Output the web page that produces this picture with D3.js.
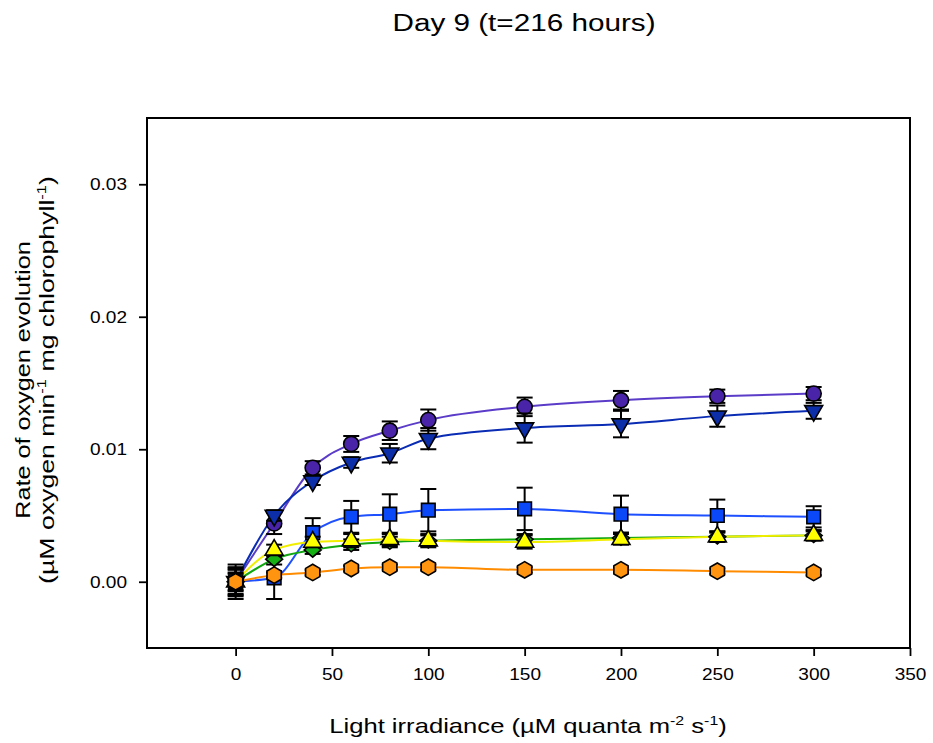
<!DOCTYPE html>
<html>
<head>
<meta charset="utf-8">
<script src="https://cdn.jsdelivr.net/npm/d3@7"></script>
<style>
  body { margin: 0; background: #fff; }
  svg { font-family: "Liberation Sans", Arial, sans-serif; }
</style>
</head>
<body>
<svg id="chart" width="933" height="743"></svg>
<script>
// light levels (µM quanta m-2 s-1)
const irradiance = [0, 20, 40, 60, 80, 100, 150, 200, 250, 300]

// rates + standard errors per culture
const purpleRate = [0.0000, 0.0044, 0.0086, 0.0104, 0.0114, 0.0122, 0.0132, 0.0137, 0.0140, 0.0142]
const purpleErr  = [0.0010, 0.0008, 0.0005, 0.0006, 0.0007, 0.0008, 0.0007, 0.0007, 0.0005, 0.0005]
const navyRate   = [0.0000, 0.0050, 0.0076, 0.0090, 0.0097, 0.0108, 0.0116, 0.0119, 0.0125, 0.0129]
const navyErr    = [0.0009, 0.0004, 0.0003, 0.0004, 0.0007, 0.0008, 0.0011, 0.0010, 0.0008, 0.0006]
const blueRate   = [0.0000, 0.0003, 0.0037, 0.0049, 0.0051, 0.0054, 0.0055, 0.0051, 0.0050, 0.0049]
const blueErr    = [0.0013, 0.0016, 0.0011, 0.0012, 0.0015, 0.0016, 0.0016, 0.0014, 0.0012, 0.0008]
const greenRate  = [0.0000, 0.0017, 0.0024, 0.0028, 0.0030, 0.0031, 0.0032, 0.0033, 0.0034, 0.0035]
const greenErr   = [0.0006, 0.0004, 0.0003, 0.0004, 0.0004, 0.0004, 0.0004, 0.0004, 0.0003, 0.0003]
const yellowRate = [0.0000, 0.0024, 0.0030, 0.0031, 0.0032, 0.0031, 0.0030, 0.0032, 0.0034, 0.0035]
const yellowErr  = [0.0007, 0.0004, 0.0004, 0.0005, 0.0005, 0.0005, 0.0005, 0.0004, 0.0004, 0.0004]
const orangeRate = [0.0000, 0.0005, 0.0007, 0.0010, 0.0011, 0.0011, 0.0009, 0.0009, 0.0008, 0.0007]
const orangeErr  = [0.0011, 0.0002, 0.0002, 0.0002, 0.0002, 0.0002, 0.0002, 0.0002, 0.0002, 0.0002]

const xTicks = [0, 50, 100, 150, 200, 250, 300, 350]
const yTicks = [0.00, 0.01, 0.02, 0.03]

// custom marker shapes
const hexagon = {
  draw(ctx, size) {
    const r = Math.sqrt(size / 2.598)
    for (let i = 0; i < 6; i++) {
      const a = Math.PI / 3 * i - Math.PI / 2
      i ? ctx.lineTo(r * Math.cos(a), r * Math.sin(a)) : ctx.moveTo(r * Math.cos(a), r * Math.sin(a))
    }
    ctx.closePath()
  }
}
const flatDiamond = {
  draw(ctx, size) {
    const w = Math.sqrt(size) * 0.62, h = w * 0.85
    ctx.moveTo(0, -h); ctx.lineTo(w, 0); ctx.lineTo(0, h); ctx.lineTo(-w, 0); ctx.closePath()
  }
}

const series = [
  { rate: purpleRate, err: purpleErr, line: '#5a3cc8', fill: '#4a24a8', shape: d3.symbolCircle, size: 180, rot: 0 },
  { rate: navyRate, err: navyErr, line: '#0a2cb4', fill: '#0c2ea8', shape: d3.symbolTriangle, size: 140, rot: 180 },
  { rate: blueRate, err: blueErr, line: '#1e50ff', fill: '#0a48f8', shape: d3.symbolSquare, size: 185, rot: 0 },
  { rate: greenRate, err: greenErr, line: '#12a812', fill: '#14b014', shape: flatDiamond, size: 185, rot: 0 },
  { rate: yellowRate, err: yellowErr, line: '#f2ee00', fill: '#ffff00', shape: d3.symbolTriangle, size: 140, rot: 0 },
  { rate: orangeRate, err: orangeErr, line: '#ff8c00', fill: '#ff9410', shape: hexagon, size: 175, rot: 0 }
]

const plotLeft = 147, plotRight = 910, plotTop = 118, plotBottom = 648
const x = d3.scaleLinear().domain([-46, 350]).range([plotLeft, plotRight])
const y = d3.scaleLinear().domain([-0.005, 0.035]).range([plotBottom, plotTop])

const svg = d3.select('#chart')

// make glyphs a bit wider, like the original export
function widen(sel, k) {
  sel.each(function () {
    const w = this.getComputedTextLength()
    d3.select(this).attr('textLength', w * k).attr('lengthAdjust', 'spacingAndGlyphs')
  })
}

svg.append('text')
  .attr('x', 524).attr('y', 31)
  .attr('text-anchor', 'middle')
  .style('font-size', '23px')
  .text('Day 9 (t=216 hours)')
  .call(widen, 1.29)

// axes
svg.append('g')
  .attr('transform', `translate(0, ${plotBottom})`)
  .call(d3.axisBottom(x).tickValues(xTicks).tickSize(8).tickPadding(12).tickFormat(d3.format('d')))
svg.append('g')
  .attr('transform', `translate(${plotLeft}, 0)`)
  .call(d3.axisLeft(y).tickValues(yTicks).tickSize(8).tickPadding(12).tickFormat(d3.format('.2f')))

svg.selectAll('.domain').remove()
svg.selectAll('.tick line').attr('stroke', '#000').attr('stroke-width', 1.8)
svg.selectAll('.tick text')
  .attr('fill', '#000')
  .style('font-size', '17px')
  .call(widen, 1.12)

// plot frame
svg.append('rect')
  .attr('x', plotLeft).attr('y', plotTop)
  .attr('width', plotRight - plotLeft).attr('height', plotBottom - plotTop)
  .attr('fill', 'none')
  .attr('stroke', '#000')
  .attr('stroke-width', 2)

const line = d3.line()
  .x((d, i) => x(irradiance[i]))
  .y(d => y(d))
  .curve(d3.curveMonotoneX)

const plot = svg.append('g')

series.forEach(s => {
  plot.append('path')
    .attr('d', line(s.rate))
    .attr('fill', 'none')
    .attr('stroke', s.line)
    .attr('stroke-width', 2)
})

series.forEach(s => {
  const g = plot.append('g')
  const pts = s.rate.map((v, i) => ({ x: irradiance[i], v: v, e: s.err[i] }))

  const bars = g.selectAll('g.err')
    .data(pts)
    .enter().append('g')
    .attr('class', 'err')
    .attr('stroke', '#000')
    .attr('stroke-width', 2)
  bars.append('line')
    .attr('x1', d => x(d.x)).attr('x2', d => x(d.x))
    .attr('y1', d => y(d.v - d.e)).attr('y2', d => y(d.v + d.e))
  bars.append('line')
    .attr('x1', d => x(d.x) - 8).attr('x2', d => x(d.x) + 8)
    .attr('y1', d => y(d.v + d.e)).attr('y2', d => y(d.v + d.e))
  bars.append('line')
    .attr('x1', d => x(d.x) - 8).attr('x2', d => x(d.x) + 8)
    .attr('y1', d => y(d.v - d.e)).attr('y2', d => y(d.v - d.e))

  g.selectAll('path.mark')
    .data(pts)
    .enter().append('path')
    .attr('class', 'mark')
    .attr('d', d3.symbol().type(s.shape).size(s.size))
    .attr('transform', d => `translate(${x(d.x)}, ${y(d.v)}) rotate(${s.rot})`)
    .attr('fill', s.fill)
    .attr('stroke', '#000')
    .attr('stroke-width', 1.6)
})

// axis titles
const xt = svg.append('text')
  .attr('x', 528).attr('y', 733)
  .attr('text-anchor', 'middle')
  .style('font-size', '21px')
xt.append('tspan').text('Light irradiance (\u00b5M quanta m')
xt.append('tspan').attr('dy', -8).style('font-size', '13px').text('-2')
xt.append('tspan').attr('dy', 8).text(' s')
xt.append('tspan').attr('dy', -8).style('font-size', '13px').text('-1')
xt.append('tspan').attr('dy', 8).text(')')
xt.call(widen, 1.22)

const yt = svg.append('g').attr('transform', 'translate(30, 380) rotate(-90)')
yt.append('text')
  .attr('text-anchor', 'middle')
  .style('font-size', '21px')
  .text('Rate of oxygen evolution')
  .call(widen, 1.2)
const yt2 = yt.append('text')
  .attr('y', 24)
  .attr('text-anchor', 'middle')
  .style('font-size', '21px')
yt2.append('tspan').text('(\u00b5M oxygen min')
yt2.append('tspan').attr('dy', -8).style('font-size', '13px').text('-1')
yt2.append('tspan').attr('dy', 8).text(' mg chlorophyll')
yt2.append('tspan').attr('dy', -8).style('font-size', '13px').text('-1')
yt2.append('tspan').attr('dy', 8).text(')')
yt2.call(widen, 1.27)
</script>
</body>
</html>
